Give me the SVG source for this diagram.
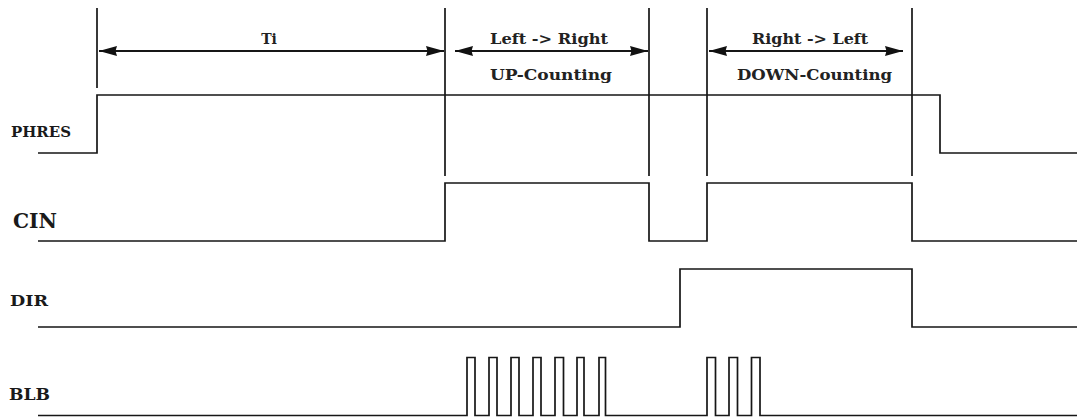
<svg xmlns="http://www.w3.org/2000/svg" width="1077" height="417" viewBox="0 0 1077 417">
<style>
.sig{fill:none;stroke:#161616;stroke-width:1.7;stroke-linejoin:miter}
.mk{fill:none;stroke:#161616;stroke-width:1.7}
.dim{fill:none;stroke:#161616;stroke-width:1.8}
.lbl{font-family:"DejaVu Serif","Liberation Serif",serif;font-weight:bold;fill:#1a1a1a}
.top{font-family:"DejaVu Serif","Liberation Serif",serif;font-weight:bold;fill:#222;font-size:14px}
</style>
<defs>
<marker id="ah" viewBox="0 0 18 11" refX="18" refY="5.5" markerWidth="18" markerHeight="11" markerUnits="userSpaceOnUse" orient="auto-start-reverse">
<path d="M0,0.5 L18,5.5 L0,10.5 L1.5,5.5 Z" fill="#111111"/>
</marker>
</defs>
<rect width="1077" height="417" fill="#ffffff"/>
<g id="markers">
<line class="mk" x1="97" y1="8" x2="97" y2="88"/>
<line class="mk" x1="445" y1="8" x2="445" y2="176"/>
<line class="mk" x1="649" y1="8" x2="649" y2="176"/>
<line class="mk" x1="707" y1="8" x2="707" y2="176"/>
<line class="mk" x1="912" y1="8" x2="912" y2="176"/>
</g>
<g id="connectors">
<line class="dim" x1="99" y1="51" x2="444" y2="51" marker-start="url(#ah)" marker-end="url(#ah)"/>
<line class="dim" x1="455" y1="51" x2="648" y2="51" marker-start="url(#ah)" marker-end="url(#ah)"/>
<line class="dim" x1="709" y1="51" x2="903" y2="51" marker-start="url(#ah)" marker-end="url(#ah)"/>
</g>
<g id="labels-top">
<text class="top" x="269" y="44" text-anchor="middle">Ti</text>
<text class="top" x="490" y="44" textLength="118" lengthAdjust="spacingAndGlyphs">Left -&gt; Right</text>
<text class="top" x="490" y="80" textLength="122" lengthAdjust="spacingAndGlyphs">UP-Counting</text>
<text class="top" x="752" y="44" textLength="116" lengthAdjust="spacingAndGlyphs">Right -&gt; Left</text>
<text class="top" x="737" y="80" textLength="155" lengthAdjust="spacingAndGlyphs">DOWN-Counting</text>
</g>
<g id="PHRES">
<text class="lbl" x="11" y="137" font-size="14" textLength="60" lengthAdjust="spacingAndGlyphs">PHRES</text>
<path class="sig" d="M38 153 H97 V95 H940 V153 H1077"/>
</g>
<g id="CIN">
<text class="lbl" x="13" y="228" font-size="21" textLength="44" lengthAdjust="spacingAndGlyphs">CIN</text>
<path class="sig" d="M38 241 H445 V183 H649 V241 H707 V183 H912 V241 H1077"/>
</g>
<g id="DIR">
<text class="lbl" x="10" y="306" font-size="14" textLength="38" lengthAdjust="spacingAndGlyphs">DIR</text>
<path class="sig" d="M38 327 H680 V269 H912 V327 H1077"/>
</g>
<g id="BLB">
<text class="lbl" x="9" y="400" font-size="16" textLength="41" lengthAdjust="spacingAndGlyphs">BLB</text>
<path class="sig" d="M38 415.5 H467 V357.5 H475 V415.5 H489 V357.5 H497 V415.5 H511 V357.5 H519 V415.5 H533 V357.5 H541 V415.5 H555 V357.5 H563.5 V415.5 H577 V357.5 H584 V415.5 H599 V357.5 H605.5 V415.5 H707 V357.5 H715.5 V415.5 H729 V357.5 H737.5 V415.5 H751.5 V357.5 H760 V415.5 H1077"/>
</g>
</svg>
